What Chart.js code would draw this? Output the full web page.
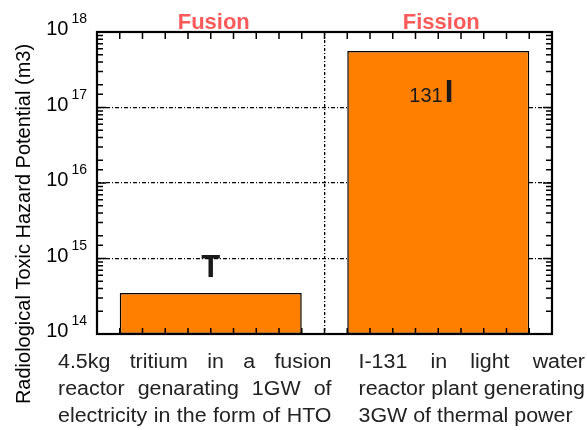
<!DOCTYPE html>
<html>
<head>
<meta charset="utf-8">
<script src="https://cdn.jsdelivr.net/npm/chart.js@4.4.0/dist/chart.umd.min.js"></script>
<style>
  html, body { margin: 0; padding: 0; background: #fff; }
</style>
</head>
<body>
<canvas id="hazardChart" width="587" height="430"></canvas>
<script>
// data
const categories = ['Fusion', 'Fission'];
const hazard = [3.5e14, 5.6e17];          // m3
const nuclide = ['T', 'I'];
const massNumber = ['', '131'];
const descriptions = [
  ['4.5kg tritium in a fusion', 'reactor genarating 1GW of', 'electricity in the form of HTO'],
  ['I-131 in light water', 'reactor plant generating', '3GW of thermal power']
];
const decades = [14, 15, 16, 17, 18];
const yTitle = 'Radiological Toxic Hazard Potential (m3)';

const FONT = '"Liberation Sans", Arial, Helvetica, sans-serif';
const SX = 1.07; // the text in the picture is a bit wide

function textW(ctx, s) { return ctx.measureText(s).width * SX; }

function putText(ctx, s, x, y) {
  ctx.save();
  ctx.translate(x, y);
  ctx.scale(SX, 1);
  ctx.textAlign = 'left';
  ctx.fillText(s, 0, 0);
  ctx.restore();
}

function drawJustified(ctx, text, x0, x1, y, justify) {
  const words = text.split(' ');
  const widths = words.map(w => textW(ctx, w));
  const sum = widths.reduce((a, b) => a + b, 0);
  if (!justify || words.length < 2 || textW(ctx, text) > x1 - x0) {
    putText(ctx, text, x0, y);
    return;
  }
  const gap = (x1 - x0 - sum) / (words.length - 1);
  let x = x0;
  words.forEach((w, i) => {
    putText(ctx, w, x, y);
    x += widths[i] + gap;
  });
}

const decorPlugin = {
  id: 'decor',
  afterDatasetsDraw(chart) {
    const ctx = chart.ctx;
    const a = chart.chartArea;
    const y = chart.scales.y;
    const x = chart.scales.x;
    ctx.save();
    ctx.strokeStyle = '#000';
    ctx.fillStyle = '#000';
    ctx.textBaseline = 'alphabetic';

    // y ticks inward on both sides (log minor + major)
    ctx.lineWidth = 1.5;
    y.ticks.forEach(t => {
      const py = y.getPixelForValue(t.value);
      const len = t.major ? 9 : 6;
      ctx.beginPath();
      ctx.moveTo(a.left, py); ctx.lineTo(a.left + len, py);
      ctx.moveTo(a.right, py); ctx.lineTo(a.right - len, py);
      ctx.stroke();
    });

    // x ticks inward, top and bottom
    const nSub = 20;
    for (let i = 1; i < nSub; i++) {
      const px = a.left + (a.right - a.left) * i / nSub;
      ctx.beginPath();
      ctx.moveTo(px, a.bottom); ctx.lineTo(px, a.bottom - 6);
      ctx.moveTo(px, a.top); ctx.lineTo(px, a.top + 7);
      ctx.stroke();
    }

    // frame
    ctx.lineWidth = 2.2;
    ctx.strokeRect(a.left, a.top, a.right - a.left, a.bottom - a.top);

    // y tick labels 10^n
    decades.forEach(d => {
      const py = y.getPixelForValue(Math.pow(10, d));
      ctx.font = '14px ' + FONT;
      const ew = ctx.measureText(String(d)).width;
      ctx.font = '20px ' + FONT;
      const bw = ctx.measureText('10').width;
      const xr = a.left - 10;
      ctx.textAlign = 'left';
      ctx.fillText('10', xr - ew - 3 - bw, py + 3);
      ctx.font = '14px ' + FONT;
      ctx.fillText(String(d), xr - ew, py - 9);
    });

    // y title
    ctx.save();
    ctx.translate(24, 224);
    ctx.rotate(-Math.PI / 2);
    ctx.font = '20px ' + FONT;
    ctx.textAlign = 'center';
    ctx.textBaseline = 'middle';
    ctx.fillText(yTitle, 0, 0);
    ctx.restore();

    // category titles
    ctx.font = 'bold 22px ' + FONT;
    ctx.fillStyle = '#ff5a5a';
    ctx.textAlign = 'center';
    categories.forEach((c, i) => {
      ctx.fillText(c, x.getPixelForValue(i) + 3, a.top - 3);
    });

    // nuclide labels on the bars
    ctx.fillStyle = '#1a1a1a';
    const meta = chart.getDatasetMeta(0);
    meta.data.forEach((bar, i) => {
      ctx.textAlign = 'left';
      ctx.font = 'bold 31px ' + FONT;
      const nw = ctx.measureText(nuclide[i]).width;
      ctx.font = '20px ' + FONT;
      const mw = massNumber[i] ? ctx.measureText(massNumber[i]).width + 2 : 0;
      const inside = bar.base - bar.y > 120;
      const by = inside ? bar.y + 51 : bar.y - 16;
      const x0 = bar.x - (nw + mw) / 2 - (mw ? 7 : 0);
      if (mw) {
        ctx.font = '20px ' + FONT;
        ctx.fillText(massNumber[i], x0, by);
      }
      ctx.font = 'bold 31px ' + FONT;
      ctx.fillText(nuclide[i], x0 + mw, by);
    });

    // category descriptions, justified blocks
    ctx.fillStyle = '#222';
    ctx.font = '20px ' + FONT;
    const div = (x.getPixelForValue(0) + x.getPixelForValue(1)) / 2;
    const blocks = [[a.left - 39, div + 7], [div + 34, chart.width - 2]];
    descriptions.forEach((lines, i) => {
      lines.forEach((ln, j) => {
        const last = j === lines.length - 1;
        const justify = !last || textW(ctx, ln) > 0.97 * (blocks[i][1] - blocks[i][0]);
        drawJustified(ctx, ln, blocks[i][0], blocks[i][1], a.bottom + 34 + j * 27, justify);
      });
    });
    ctx.restore();
  }
};

new Chart(document.getElementById('hazardChart'), {
  type: 'bar',
  data: {
    labels: categories,
    datasets: [{
      data: hazard,
      backgroundColor: '#ff8000',
      borderColor: '#000',
      borderWidth: 1.5,
      borderSkipped: false,
      categoryPercentage: 0.8,
      barPercentage: 1.0
    }]
  },
  options: {
    responsive: false,
    animation: false,
    layout: { padding: { left: 97, right: 35, top: 32, bottom: 96 } },
    plugins: { legend: { display: false }, tooltip: { enabled: false } },
    scales: {
      x: {
        offset: true,
        ticks: { display: false },
        grid: {
          offset: true,
          drawTicks: false,
          color: '#000',
          lineWidth: 1.3
        },
        border: { display: false, dash: [3, 2, 1, 2] }
      },
      y: {
        type: 'logarithmic',
        min: 1e14,
        max: 1e18,
        ticks: { display: false },
        border: { display: false, dash: [4, 2, 1, 2] },
        grid: {
          drawTicks: false,
          color: ctx => (ctx.tick && ctx.tick.major) ? '#000' : 'rgba(0,0,0,0)',
          lineWidth: 1.3
        }
      }
    }
  },
  plugins: [decorPlugin]
});
</script>
</body>
</html>
